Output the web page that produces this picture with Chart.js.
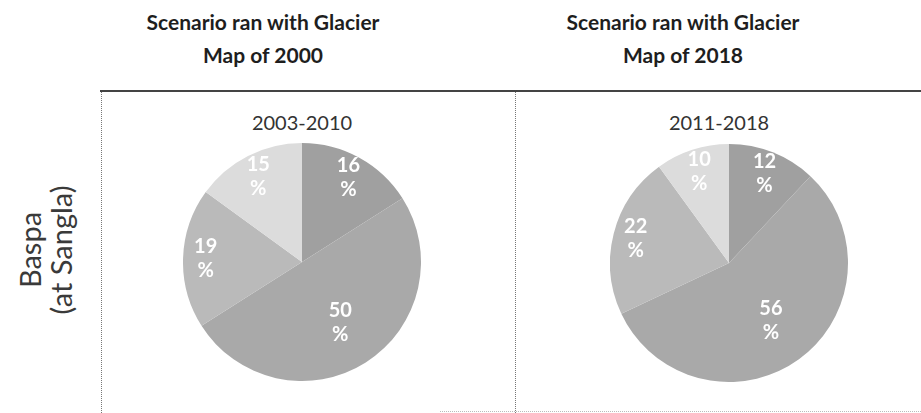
<!DOCTYPE html>
<html>
<head>
<meta charset="utf-8">
<script src="https://cdn.jsdelivr.net/npm/chart.js@4"></script>
<style>
  html, body { margin:0; padding:0; background:#fff; }
  #wrap { position:relative; width:921px; height:413px; overflow:hidden; background:#fff; font-family: Lato, "Open Sans", sans-serif; color:#1a1a1a; }
  .hdr { position:absolute; top:5px; width:330px; text-align:center; font-weight:700; font-size:21px; line-height:33px; color:#1e1e1e; }
  .sub { position:absolute; top:110px; width:300px; text-align:center; font-size:20px; color:#333; }
  .rowlbl { position:absolute; left:45px; top:250px; transform:translate(-50%,-50%) rotate(-90deg); text-align:center; font-size:29px; line-height:31px; color:#3a3a3a; white-space:nowrap; font-weight:400; }
  .ln { position:absolute; }
  canvas { position:absolute; }
</style>
</head>
<body>
<div id="wrap">
  <div class="hdr" id="h1" style="left:98px"></div>
  <div class="hdr" id="h2" style="left:518px"></div>
  <div class="sub" id="s1" style="left:152px"></div>
  <div class="sub" id="s2" style="left:569px"></div>
  <div class="rowlbl" id="rl"></div>
  <div class="ln" style="left:100px; top:90px; width:821px; height:0; border-top:2px solid #444;"></div>
  <div class="ln" style="left:101px; top:92px; width:0; height:321px; border-left:1px dotted #777;"></div>
  <div class="ln" style="left:515px; top:92px; width:0; height:321px; border-left:1px dotted #777;"></div>
  <div class="ln" style="left:440px; top:411px; width:481px; height:0; border-top:1px dotted #bbb;"></div>
  <canvas id="c1" width="238" height="238" style="left:183px; top:143px;"></canvas>
  <canvas id="c2" width="238" height="238" style="left:610px; top:144px;"></canvas>
</div>
<script>
// ---- data ----
const headers = ["Scenario ran with Glacier|Map of 2000", "Scenario ran with Glacier|Map of 2018"];
const periods = ["2003-2010", "2011-2018"];
const rowLabel = ["Baspa", "(at Sangla)"];
const components = ["A", "B", "C", "D"];
const shares2000 = [16, 50, 19, 15];
const shares2018 = [12, 56, 22, 10];
const sliceColors = ["#a0a0a0", "#a9a9a9", "#bababa", "#dcdcdc"];

document.getElementById('h1').innerHTML = headers[0].split('|').join('<br>');
document.getElementById('h2').innerHTML = headers[1].split('|').join('<br>');
document.getElementById('s1').textContent = periods[0];
document.getElementById('s2').textContent = periods[1];
document.getElementById('rl').innerHTML = rowLabel.join('<br>');

const pctLabels = {
  id: 'pctLabels',
  afterDatasetsDraw(chart) {
    const ctx = chart.ctx;
    const meta = chart.getDatasetMeta(0);
    const data = chart.data.datasets[0].data;
    const total = data.reduce((a, b) => a + b, 0);
    ctx.save();
    ctx.fillStyle = '#ffffff';
    ctx.font = 'bold 20px Lato, "Open Sans", sans-serif';
    ctx.textAlign = 'center';
    ctx.textBaseline = 'middle';
    meta.data.forEach((arc, i) => {
      const p = arc.getProps(['x','y','startAngle','endAngle','outerRadius'], true);
      const mid = (p.startAngle + p.endAngle) / 2;
      const frac = data[i] / total;
      const r = p.outerRadius * (frac > 0.4 ? 0.6 : 0.81);
      const x = p.x + Math.cos(mid) * r;
      const y = p.y + Math.sin(mid) * r;
      ctx.fillText(String(data[i]), x, y - 12);
      ctx.fillText('%', x, y + 12);
    });
    ctx.restore();
  }
};

function makePie(id, values) {
  new Chart(document.getElementById(id), {
    type: 'pie',
    data: { labels: components, datasets: [{ data: values, backgroundColor: sliceColors, borderWidth: 0 }] },
    options: {
      responsive: false, animation: false,
      layout: { padding: 0 },
      plugins: { legend: { display: false }, tooltip: { enabled: false } }
    },
    plugins: [pctLabels]
  });
}
makePie('c1', shares2000);
makePie('c2', shares2018);
</script>
</body>
</html>
